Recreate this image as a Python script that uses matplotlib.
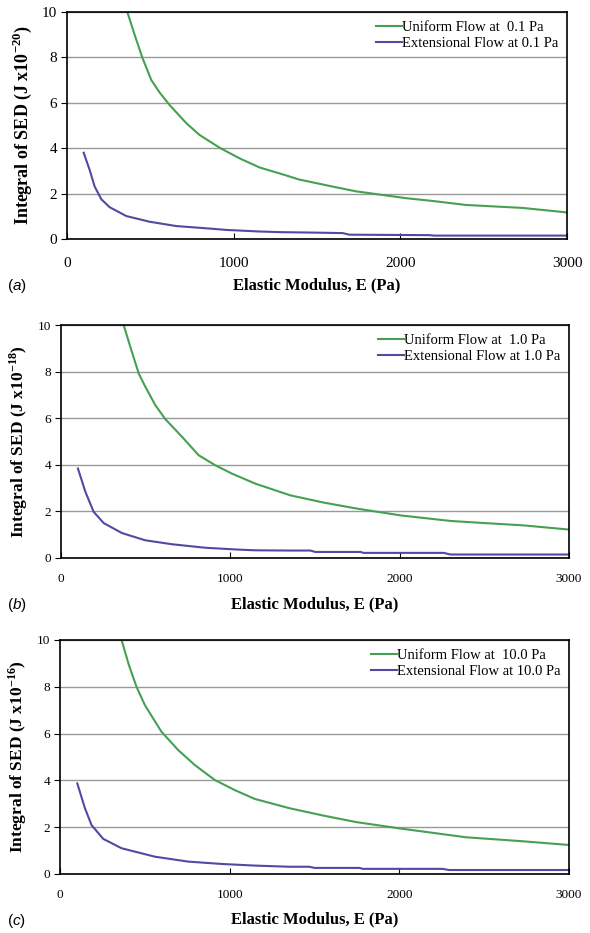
import numpy as np
import matplotlib.pyplot as plt

plt.rcParams['font.family'] = 'Liberation Serif'
plt.rcParams['mathtext.fontset'] = 'custom'
plt.rcParams['mathtext.rm'] = 'Liberation Serif:bold'
plt.rcParams['mathtext.bf'] = 'Liberation Serif:bold'
plt.rcParams['mathtext.it'] = 'Liberation Sans:italic'

# Panel (a) - 0.1 Pa, J x10^-20
ua_x = [362, 406, 452, 506, 556, 616, 716, 796, 916, 1036, 1156, 1293, 1393, 1600, 1734, 2033, 2200, 2393, 2732, 3000]
ua_y = [10.0, 8.99, 7.99, 7.0, 6.45, 5.9, 5.10, 4.58, 4.02, 3.55, 3.15, 2.85, 2.62, 2.3, 2.1, 1.8, 1.67, 1.5, 1.37, 1.17]
ea_x = [100, 136, 166, 206, 256, 356, 496, 656, 856, 956, 1156, 1293, 1500, 1654, 1694, 2174, 2200, 3000]
ea_y = [3.80, 3.04, 2.31, 1.75, 1.40, 1.01, 0.76, 0.57, 0.46, 0.40, 0.33, 0.30, 0.28, 0.26, 0.19, 0.17, 0.15, 0.15]

# Panel (b) - 1.0 Pa, J x10^-18
ub_x = [370, 415, 459, 498, 557, 616, 715, 813, 911, 1010, 1148, 1354, 1550, 1748, 2004, 2300, 2500, 2732, 3000]
ub_y = [10.0, 8.93, 7.92, 7.35, 6.56, 5.96, 5.20, 4.41, 3.98, 3.62, 3.19, 2.69, 2.38, 2.12, 1.83, 1.59, 1.5, 1.4, 1.22]
eb_x = [100, 144, 193, 252, 360, 498, 656, 852, 1049, 1148, 1354, 1472, 1502, 1768, 1787, 2260, 2300, 3000]
eb_y = [3.84, 2.84, 1.98, 1.50, 1.07, 0.76, 0.59, 0.44, 0.36, 0.33, 0.32, 0.32, 0.26, 0.26, 0.22, 0.22, 0.15, 0.15]

# Panel (c) - 10.0 Pa, J x10^-16
uc_x = [363, 406, 451, 500, 549, 598, 696, 794, 912, 1029, 1147, 1353, 1550, 1745, 2000, 2392, 2725, 3000]
uc_y = [10.0, 8.93, 8.0, 7.22, 6.65, 6.08, 5.30, 4.66, 4.02, 3.59, 3.21, 2.81, 2.5, 2.22, 1.95, 1.57, 1.4, 1.24]
ec_x = [102, 147, 186, 255, 363, 559, 755, 951, 1147, 1353, 1470, 1500, 1765, 1785, 2255, 2294, 3000]
ec_y = [3.87, 2.81, 2.09, 1.50, 1.10, 0.74, 0.53, 0.43, 0.36, 0.31, 0.31, 0.26, 0.26, 0.22, 0.22, 0.17, 0.17]

stress = ['0.1', '1.0', '10.0']
exps = ['-20', '-18', '-16']
tags = ['a', 'b', 'c']

green = '#46a052'
blue = '#4f4ba0'

# axes boxes in pixels: left, right, top, bottom
boxes = [(67, 567, 12, 239), (61, 569, 325, 558), (60, 569, 640, 874)]
tick_sizes = [11, 9.5, 9.5]
pads = [13, 11, 11]
ylab_sizes = [13, 12.5, 12.5]
xlab_pads = [5, 8, 7]

fig = plt.figure(figsize=(5.9, 9.33), dpi=100)
W, H = 590, 933

data = [(ua_x, ua_y, ea_x, ea_y), (ub_x, ub_y, eb_x, eb_y), (uc_x, uc_y, ec_x, ec_y)]

for i, (ux, uy, ex, ey) in enumerate(data):
    l, r, t, b = boxes[i]
    ax = fig.add_axes([l / W, 1 - b / H, (r - l) / W, (b - t) / H])
    ax.plot(ux, uy, color=green, lw=1.5, label='Uniform Flow at  %s Pa' % stress[i])
    ax.plot(ex, ey, color=blue, lw=1.5, label='Extensional Flow at %s Pa' % stress[i])
    ax.set_xlim(0, 3000)
    ax.set_ylim(0, 10)
    ax.set_xticks([0, 1000, 2000, 3000])
    ax.set_yticks([0, 2, 4, 6, 8, 10])
    ax.yaxis.grid(True, color='#999999', lw=1)
    ax.set_axisbelow(True)
    for s in ax.spines.values():
        s.set_linewidth(1.2)
    ax.tick_params(axis='x', direction='in', length=4, pad=pads[i], labelsize=tick_sizes[i])
    ax.tick_params(axis='y', direction='out', length=4, pad=3, labelsize=tick_sizes[i])
    ax.set_ylabel(r'Integral of SED (J x10$^{%s}$)' % exps[i], fontsize=ylab_sizes[i],
                  fontweight='bold', labelpad=6)
    ax.set_xlabel('Elastic Modulus, E (Pa)', fontsize=12, fontweight='bold', labelpad=xlab_pads[i])
    ax.legend(loc='upper right', frameon=False, fontsize=10.5, handlelength=1.8,
              handletextpad=0.0, labelspacing=0.2, borderaxespad=0.2)
    fig.text(0.012, 1 - (b + 47) / H, r'($\mathit{%s}$)' % tags[i], fontsize=11,
             family='Liberation Sans', va='center')

fig.savefig('out.png', dpi=100)
